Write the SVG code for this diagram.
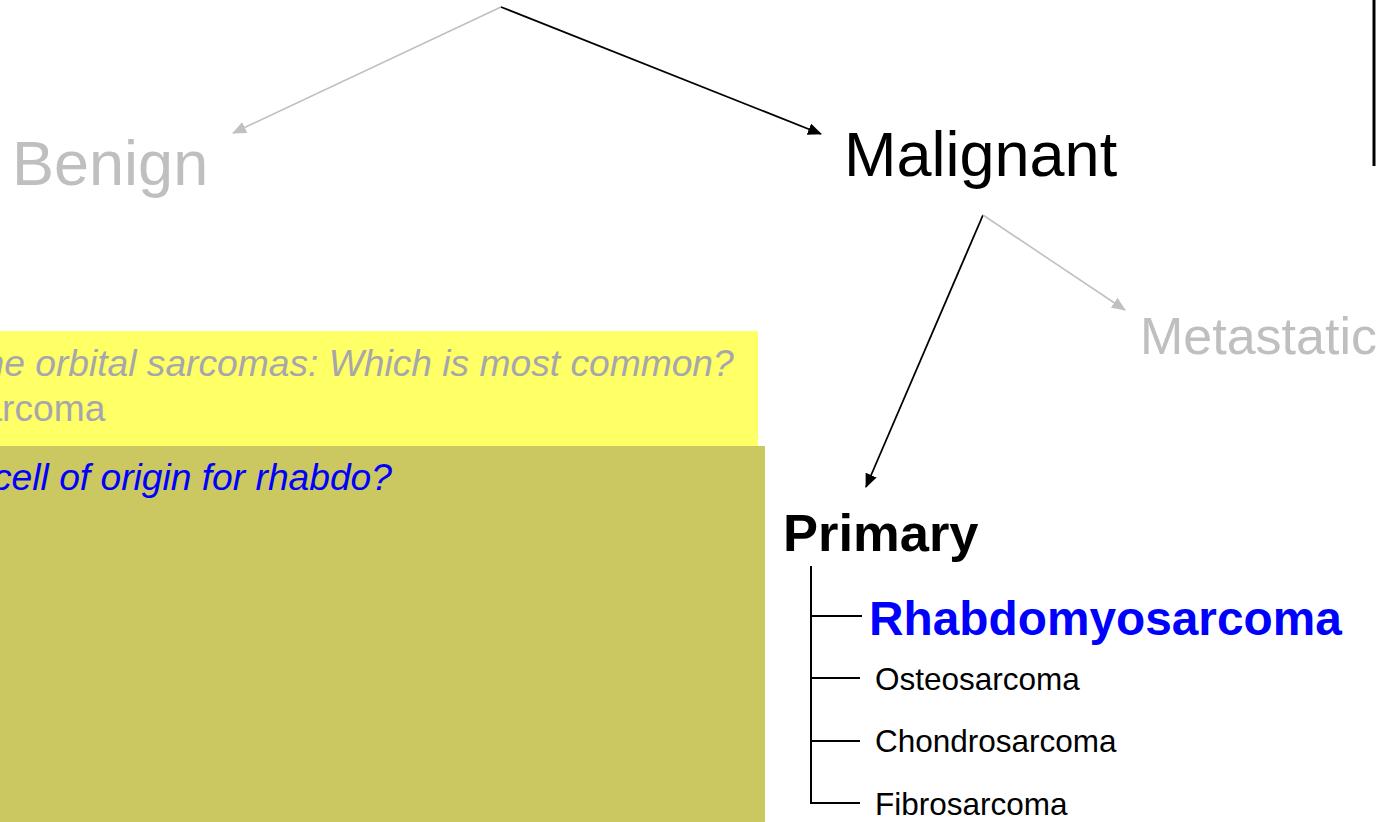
<svg xmlns="http://www.w3.org/2000/svg" width="1387" height="822" viewBox="0 0 1387 822">
  <style>
    text { font-family: "Liberation Sans", Arial, sans-serif; }
    .big { font-size: 63px; }
    .dim { fill: #BFBFBF; }
    .item { font-size: 31.5px; fill: #000; }
    .q { font-size: 37.2px; }
    .edge-dark { stroke: #000; fill: none; }
    .edge-dim { stroke: #C0C0C0; fill: none; }
    .tree { stroke: #000; stroke-width: 2; fill: none; }
  </style>
  <defs>
    <marker id="arrow-dark" viewBox="0 0 14 12" refX="13" refY="6" markerWidth="14" markerHeight="12" orient="auto" markerUnits="userSpaceOnUse">
      <path d="M0,0 L14,6 L0,12 z" fill="#000"/>
    </marker>
    <marker id="arrow-dim" viewBox="0 0 14 12" refX="13" refY="6" markerWidth="14" markerHeight="12" orient="auto" markerUnits="userSpaceOnUse">
      <path d="M0,0 L14,6 L0,12 z" fill="#C0C0C0"/>
    </marker>
  </defs>
  <rect width="1387" height="822" fill="#FFFFFF"/>

  <!-- question panels -->
  <g id="panel-question-1">
    <rect x="0" y="331" width="758" height="115" fill="#FFFF66"/>
    <text x="-16.5" y="376" class="q" font-style="italic" fill="#A6A6AD">he orbital sarcomas: Which is most common?</text>
    <text x="-18.6" y="421" class="q" fill="#A6A6AD">arcoma</text>
  </g>
  <g id="panel-question-2">
    <rect x="0" y="446" width="765" height="376" fill="#CBC862"/>
    <text x="-7" y="490" class="q" font-style="italic" fill="#0000FF">cell of origin for rhabdo?</text>
  </g>

  <!-- connectors -->
  <g id="connectors">
    <line x1="501" y1="7" x2="233" y2="133" class="edge-dim" stroke-width="1.6" marker-end="url(#arrow-dim)"/>
    <line x1="501" y1="7" x2="821" y2="134" class="edge-dark" stroke-width="1.8" marker-end="url(#arrow-dark)"/>
    <line x1="983" y1="215" x2="866" y2="487" class="edge-dark" stroke-width="1.8" marker-end="url(#arrow-dark)"/>
    <line x1="983" y1="215" x2="1125" y2="310" class="edge-dim" stroke-width="1.6" marker-end="url(#arrow-dim)"/>
    <path d="M811,566 V803 H860 M811,616 H862 M811,678 H860 M811,741 H860" class="tree"/>
    <line x1="1374" y1="0" x2="1374" y2="166" stroke="#000" stroke-width="3"/>
  </g>

  <!-- nodes -->
  <g id="node-benign">
    <text x="12" y="185" class="big dim">Benign</text>
  </g>
  <g id="node-malignant">
    <text x="844" y="176" class="big" fill="#000">Malignant</text>
  </g>
  <g id="node-metastatic">
    <text x="1140" y="354" font-size="52" class="dim">Metastatic</text>
  </g>
  <g id="node-primary">
    <text x="783" y="551" font-size="52.5" font-weight="bold" fill="#000">Primary</text>
  </g>
  <g id="node-rhabdomyosarcoma">
    <text x="869" y="635" font-size="47.8" font-weight="bold" fill="#0000FF">Rhabdomyosarcoma</text>
  </g>
  <g id="node-osteosarcoma">
    <text x="875" y="690" class="item">Osteosarcoma</text>
  </g>
  <g id="node-chondrosarcoma">
    <text x="875" y="752" class="item">Chondrosarcoma</text>
  </g>
  <g id="node-fibrosarcoma">
    <text x="875" y="815" class="item">Fibrosarcoma</text>
  </g>
</svg>
